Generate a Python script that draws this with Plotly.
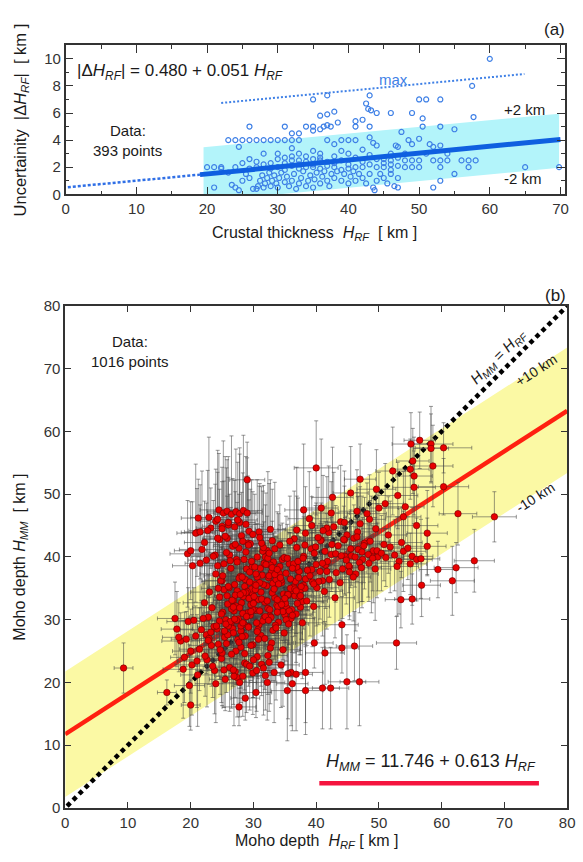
import plotly.graph_objects as go

W, H = 583, 862
FONT = "Liberation Sans, Arial, sans-serif"

# ---------------- panel (a): uncertainty vs crustal thickness ----------------
unc_x = [23, 24, 25, 26, 27, 28, 29, 30, 31, 32,
         33, 37, 39, 40, 41, 48.5, 51.5, 47.5, 26, 31,
         32, 33, 34, 35, 36.5, 37, 41, 42, 50.5, 53,
         55, 50.5, 60, 57.5, 35, 37, 43, 50, 51, 53,
         42.5, 42.8, 43.2, 44, 46, 49, 57.7, 36, 37, 38,
         41, 38.5, 36, 35, 37.5, 43, 24.5, 32, 35, 36,
         38, 42, 43, 43.5, 44, 46, 46.7, 47, 48, 49,
         50, 51, 52, 53, 54, 30, 31, 33, 34, 39,
         40, 45, 32, 33, 35, 36, 38, 46, 48, 49,
         50, 52, 53, 54, 56, 57, 58, 48, 49, 50,
         53, 57, 65, 69.8, 52, 53, 47, 55, 20, 21,
         22, 24, 26, 27, 28, 29, 30, 31, 32, 33,
         34, 35, 36, 37, 38, 39, 40, 41, 42, 43,
         44, 45, 46, 47, 21, 23.5, 24, 24.5, 25, 25.5,
         26, 26.5, 27, 27.2, 27.5, 27.8, 28, 28.2, 28.5, 28.8,
         29, 29.2, 29.5, 29.8, 30, 30.2, 30.5, 31, 31.3, 31.6,
         32, 32.3, 32.6, 33, 33.3, 33.6, 34, 34.3, 34.6, 35,
         35.2, 35.5, 36, 36.3, 36.6, 37, 37.3, 37.6, 38, 38.4,
         39, 39.4, 40, 40.3, 40.7, 41, 41.5, 42, 42.5, 43,
         43.5, 43.7, 44, 44.5, 45, 45.5, 46, 46.5, 47, 22,
         23, 25, 26, 27, 28, 29, 30, 31, 32, 33,
         34, 35, 36, 37, 38, 39, 40, 41, 42, 43,
         44, 45, 46, 47]
unc_y = [4, 4, 4, 4, 4, 4, 4, 4, 4, 4,
         4, 4, 4, 4, 4, 4, 3.7, 4.6, 5, 5,
         4.5, 4.5, 5, 5, 5, 5.1, 5, 5.5, 5, 5,
         4.8, 5.6, 10, 8, 7, 7.3, 7.3, 7, 7, 7,
         6.7, 6.3, 6.2, 6, 6, 6, 5.7, 5.8, 5.9, 6.1,
         5.4, 5.3, 4.8, 4.7, 5.0, 5.0, 3.5, 3.4, 3.2, 3.0,
         3.7, 3.3, 4.2, 3.8, 3.6, 3.0, 3.6, 3.5, 3.0, 3.7,
         4.1, 3.0, 3.5, 3.6, 3.0, 3.0, 2.7, 3.0, 2.8, 3.2,
         3.0, 2.6, 2.5, 2.5, 2.6, 2.5, 2.3, 2.5, 2.5, 2.5,
         2.5, 2.5, 2.5, 2.5, 2.5, 2.5, 2.5, 2.0, 2.0, 2.0,
         2.0, 2.0, 2.0, 2.0, 0.5, 1.0, 0.5, 1.5, 2, 2,
         1.9, 2, 1.9, 2, 2.2, 2.3, 2.0, 1.8, 2.1, 2.2,
         2.0, 2.2, 1.9, 2.1, 2.0, 1.8, 1.9, 2.0, 2.0, 2.2,
         2.0, 2.0, 1.8, 2.1, 0.5, 0.7, 0.5, 0.3, 1.0, 1.5,
         1.2, 0.4, 0.4, 0.6, 1.0, 1.4, 0.5, 0.8, 1.2, 1.6,
         0.6, 1.0, 1.4, 0.8, 0.5, 1.2, 1.6, 0.9, 1.3, 0.6,
         1.0, 1.5, 0.4, 0.8, 1.2, 1.7, 0.6, 1.0, 1.4, 0.5,
         1.1, 1.6, 0.8, 1.3, 1.7, 1.0, 0.6, 1.5, 1.2, 1.7,
         1.0, 1.5, 0.8, 1.3, 1.7, 1.0, 1.5, 1.2, 0.8, 1.5,
         0.5, 0.3, 1.0, 1.5, 1.2, 0.8, 1.5, 0.6, 1.2, 2.0,
         1.6, 2.3, 2.6, 2.4, 3.0, 1.9, 2.6, 2.3, 2.8, 1.9,
         2.4, 2.0, 2.7, 2.4, 2.8, 2.5, 2.2, 2.7, 2.4, 2.9,
         2.6, 2.3, 2.2, 2.7]

fit_a_x = [19.0, 70.0]
fit_a_y = [1.45, 4.05]
ext_a_x = [0.3, 19.0]
ext_a_y = [0.52, 1.45]
max_a_x = [22.0, 64.9]
max_a_y = [6.74, 8.88]
band_a_x = [19.5, 69.8]
band_a_lo = [-0.53, 1.95]
band_a_hi = [3.47, 5.95]

# ---------------- panel (b): Moho depth comparison ----------------
core_x = [24.2, 25.1, 25.8, 26.4, 27.0, 27.6, 28.1, 28.7, 29.2, 29.8,
          30.3, 30.9, 31.4, 32.0, 32.6, 33.1, 33.7, 34.2, 34.8, 35.3,
          24.6, 25.5, 26.1, 26.9, 27.3, 28.4, 28.9, 29.5, 30.1, 30.6,
          31.2, 31.7, 32.3, 32.9, 33.4, 34.0, 34.5, 35.1, 35.7, 36.2,
          24.9, 25.3, 26.7, 27.2, 27.9, 28.5, 29.1, 29.7, 30.4, 30.8,
          31.5, 32.1, 32.8, 33.2, 33.9, 34.4, 35.0, 35.6, 36.4, 37.1,
          25.0, 25.9, 26.5, 27.4, 28.0, 28.6, 29.3, 29.9, 30.5, 31.1,
          31.8, 32.4, 33.0, 33.5, 34.1, 34.7, 35.4, 36.0, 36.7, 37.5,
          26.0, 26.8, 27.7, 28.3, 29.0, 29.6, 30.2, 30.7, 31.3, 31.9,
          32.5, 33.3, 33.8, 34.6, 35.2, 35.9, 36.6, 37.3, 38.0, 37.8,
          24.4, 25.6, 26.3, 27.1, 27.8, 28.8, 29.4, 30.0, 31.0, 31.6,
          32.2, 32.7, 33.6, 34.3, 34.9, 35.5, 36.1, 36.9, 37.6, 38.3]
core_y = [28.5, 31.2, 33.8, 29.4, 35.6, 30.1, 32.7, 36.4, 28.9, 34.2,
          31.5, 29.2, 37.1, 33.0, 30.6, 35.8, 32.3, 38.5, 34.1, 31.9,
          33.6, 27.8, 35.1, 31.4, 29.9, 33.7, 38.1, 30.7, 32.9, 36.8,
          34.4, 30.3, 31.8, 37.6, 33.5, 29.6, 35.9, 32.6, 38.9, 34.7,
          30.9, 34.8, 28.6, 32.2, 36.9, 29.3, 31.1, 34.9, 37.3, 33.2,
          29.8, 35.4, 30.4, 39.2, 32.1, 36.3, 30.8, 33.9, 35.2, 37.9,
          36.2, 32.5, 31.7, 34.6, 28.2, 35.3, 33.4, 31.6, 29.5, 38.2,
          32.8, 36.7, 34.3, 29.1, 37.4, 31.3, 34.0, 30.2, 36.1, 32.0,
          29.0, 33.1, 36.6, 31.0, 34.5, 32.4, 35.7, 28.4, 33.3, 30.5,
          37.0, 34.9, 31.2, 39.6, 30.0, 35.0, 33.8, 37.7, 35.5, 32.9,
          35.0, 30.0, 29.7, 33.9, 31.9, 34.3, 36.0, 32.6, 31.4, 35.6,
          33.0, 38.7, 36.4, 32.8, 39.9, 34.0, 31.6, 38.4, 34.8, 36.5]
core_ex = [2.5, 3.0, 2.0, 3.5, 2.8, 2.2, 4.0, 3.1, 2.6, 2.9,
           3.3, 2.4, 2.7, 3.8, 2.1, 3.0, 2.5, 3.6, 2.3, 3.2,
           2.0, 2.8, 3.4, 2.6, 3.9, 2.2, 3.0, 2.7, 3.5, 2.4,
           2.9, 3.1, 2.3, 3.7, 2.5, 2.8, 3.3, 2.1, 4.2, 2.6,
           3.0, 2.4, 2.9, 3.2, 2.7, 3.6, 2.2, 3.0, 2.5, 3.4,
           2.8, 2.3, 3.9, 2.6, 3.1, 2.0, 3.5, 2.7, 2.4, 3.0,
           3.2, 2.5, 2.8, 3.6, 2.1, 2.9, 3.3, 2.4, 3.8, 2.6,
           2.2, 3.0, 2.7, 3.4, 2.5, 3.1, 2.3, 3.7, 2.8, 3.0,
           2.6, 3.2, 2.4, 2.9, 3.5, 2.2, 3.0, 2.7, 3.3, 2.5,
           3.1, 2.8, 3.6, 2.4, 2.9, 3.2, 2.6, 3.0, 2.3, 3.4,
           2.7, 3.0, 2.5, 3.3, 2.8, 2.2, 3.6, 2.9, 3.1, 2.4,
           3.0, 2.6, 3.4, 2.7, 2.3, 3.2, 2.8, 3.5, 2.5, 3.0]
core_ey = [5.0, 6.5, 4.2, 8.0, 5.5, 3.8, 7.2, 6.0, 9.5, 4.8,
           6.2, 5.3, 7.8, 4.5, 8.8, 5.9, 6.7, 4.0, 7.4, 5.1,
           8.3, 4.6, 6.9, 5.6, 7.0, 9.0, 4.3, 6.4, 5.2, 8.5,
           4.9, 7.6, 6.1, 5.4, 9.8, 4.4, 6.8, 7.1, 5.0, 6.3,
           7.7, 5.8, 9.2, 4.7, 6.0, 8.1, 5.5, 7.3, 4.1, 6.6,
           9.6, 5.2, 7.5, 4.6, 8.7, 6.2, 5.7, 7.9, 4.9, 6.5,
           5.4, 8.4, 6.1, 7.0, 9.9, 4.5, 6.8, 5.3, 8.2, 4.2,
           7.1, 5.9, 6.4, 8.9, 5.0, 7.7, 6.0, 9.3, 4.8, 6.9,
           8.6, 5.1, 7.2, 6.3, 4.4, 9.4, 5.6, 7.8, 6.7, 5.2,
           4.0, 7.4, 8.0, 5.8, 6.6, 4.7, 9.1, 5.5, 7.0, 6.1,
           6.0, 5.5, 8.3, 4.9, 7.6, 6.4, 5.1, 8.8, 6.2, 7.3,
           5.7, 4.3, 6.9, 7.5, 4.6, 8.5, 6.8, 5.0, 7.9, 6.2]

core2_x = [22.5, 23.4, 24.8, 26.2, 27.5, 28.9, 30.3, 31.7, 33.1, 34.5,
           35.9, 37.3, 38.7, 40.1, 41.5, 23.0, 24.3, 25.7, 27.0, 28.4,
           29.8, 31.2, 32.6, 34.0, 35.4, 36.8, 38.2, 39.6, 41.0, 42.4,
           22.2, 23.7, 25.1, 26.6, 28.0, 29.4, 30.8, 32.2, 33.6, 35.0,
           36.4, 37.8, 39.2, 40.6, 42.0, 23.3, 24.6, 26.0, 27.3, 28.7,
           30.1, 31.5, 32.9, 34.3, 35.7, 37.1, 38.5, 39.9, 41.3, 29.3,
           24.0, 25.4, 26.8, 28.2, 29.6, 31.0, 32.4, 33.8, 35.2, 36.6,
           38.0, 39.4, 40.8, 27.7, 30.6, 33.4, 36.2, 25.8, 31.9, 34.9,
           26.3, 27.9, 29.1, 30.4, 31.8, 33.0, 34.2, 35.6, 28.6, 32.7,
           22.8, 24.9, 27.2, 29.9, 32.3, 34.7, 37.0, 39.3, 41.7, 36.9]
core2_y = [27.6, 31.9, 36.2, 40.3, 26.8, 30.5, 34.8, 39.0, 28.3, 32.4,
           36.5, 33.6, 37.9, 35.1, 38.7, 34.4, 38.6, 26.2, 30.1, 34.3,
           38.4, 27.5, 31.6, 35.7, 39.8, 30.9, 35.0, 32.1, 36.2, 40.4,
           32.7, 28.9, 37.0, 33.1, 29.0, 37.6, 26.9, 41.0, 28.7, 33.4,
           38.9, 29.5, 41.3, 37.7, 43.9, 25.9, 29.8, 35.3, 39.6, 27.4,
           33.7, 40.9, 26.3, 36.7, 31.4, 39.3, 33.0, 41.6, 34.5, 44.1,
           37.3, 27.2, 32.0, 36.8, 31.3, 35.9, 29.9, 33.2, 37.4, 34.9,
           40.1, 36.0, 42.7, 41.4, 28.1, 37.2, 30.7, 43.0, 40.0, 27.9,
           39.4, 34.0, 42.2, 35.5, 27.0, 38.3, 41.9, 29.3, 24.6, 25.5,
           30.4, 23.8, 25.0, 26.0, 24.3, 25.2, 32.6, 38.0, 44.6, 44.3]
core2_ex = [2.7, 3.1, 2.4, 3.3, 2.9, 2.5, 3.6, 2.8, 3.0, 2.6,
            3.2, 2.4, 2.9, 3.5, 2.7, 3.0, 2.5, 3.4, 2.8, 3.1,
            2.6, 3.3, 2.9, 2.4, 3.7, 2.7, 3.0, 2.5, 3.2, 2.8,
            3.4, 2.6, 3.0, 2.9, 2.3, 3.5, 2.7, 3.1, 2.6, 3.0,
            2.8, 3.3, 2.5, 3.0, 2.7, 3.6, 2.4, 3.1, 2.9, 2.6,
            3.2, 2.8, 3.5, 2.5, 3.0, 2.7, 3.3, 2.6, 2.9, 3.1,
            2.5, 3.4, 2.8, 3.0, 2.6, 3.2, 2.9, 2.4, 3.6, 2.7,
            3.0, 2.6, 3.1, 2.8, 3.3, 2.5, 3.0, 2.7, 3.4, 2.9,
            2.6, 3.1, 2.8, 3.5, 2.4, 3.0, 2.7, 3.2, 2.9, 2.6,
            3.0, 2.8, 3.3, 2.5, 3.1, 2.7, 2.9, 3.4, 2.6, 3.0]
core2_ey = [6.2, 8.6, 5.3, 9.7, 7.1, 4.9, 10.4, 6.6, 8.0, 5.7,
            7.4, 9.2, 5.0, 8.3, 6.9, 10.9, 5.6, 7.8, 6.3, 9.5,
            4.8, 8.1, 6.7, 11.2, 5.4, 7.7, 9.0, 6.1, 8.8, 5.9,
            10.2, 6.4, 7.2, 5.1, 9.9, 6.8, 8.5, 5.5, 11.5, 7.0,
            6.0, 8.9, 5.2, 7.6, 10.6, 6.5, 9.3, 4.7, 8.2, 7.3,
            5.8, 9.6, 6.2, 8.4, 5.3, 10.1, 7.1, 6.6, 9.4, 5.0,
            8.7, 6.1, 7.9, 5.7, 11.0, 6.9, 8.0, 5.4, 9.1, 7.5,
            6.3, 10.3, 5.9, 8.6, 7.2, 5.6, 9.8, 6.7, 8.3, 5.1,
            7.8, 6.0, 10.7, 5.5, 8.1, 7.4, 6.4, 9.7, 5.8, 8.9,
            6.8, 7.0, 5.3, 8.4, 6.2, 9.0, 7.7, 5.9, 8.2, 10.0]

upleft_x = [19.5, 20.3, 21.0, 21.8, 22.5, 23.2, 23.9, 24.6, 25.3, 26.0,
            26.7, 27.4, 28.1, 28.8, 29.5, 30.2, 30.9, 31.6, 32.3, 33.0,
            20.0, 20.8, 21.5, 22.2, 22.9, 23.6, 24.3, 25.0, 25.7, 26.4,
            27.1, 27.8, 28.5, 29.2, 29.9, 30.6, 31.3, 32.0, 32.7, 33.4,
            21.2, 22.7, 24.0, 25.5, 27.0, 28.3, 29.7, 31.0, 32.5, 33.8]
upleft_y = [40.5, 38.6, 43.9, 41.2, 39.5, 44.6, 40.3, 42.8, 38.9, 45.1,
            41.7, 39.2, 43.4, 40.8, 42.1, 38.4, 44.0, 41.5, 39.8, 42.6,
            41.0, 43.8, 39.0, 42.3, 46.3, 40.1, 43.0, 44.9, 40.7, 38.2,
            42.0, 45.5, 39.6, 41.9, 43.6, 40.0, 42.2, 38.8, 44.4, 41.3,
            46.2, 44.2, 45.7, 43.3, 44.8, 42.5, 39.3, 43.1, 40.6, 38.0]
upleft_ex = [2.8, 3.2, 2.5, 3.6, 2.9, 2.3, 3.4, 2.7, 3.0, 2.4,
             3.1, 2.6, 3.5, 2.8, 2.2, 3.3, 2.7, 3.0, 2.5, 3.8,
             2.6, 3.0, 2.4, 3.2, 2.9, 3.5, 2.3, 3.1, 2.8, 2.6,
             3.4, 2.5, 3.0, 2.7, 3.3, 2.2, 2.9, 3.6, 2.4, 3.1,
             2.7, 3.0, 2.5, 3.4, 2.8, 3.2, 2.6, 2.9, 3.5, 2.3]
upleft_ey = [8.5, 10.2, 7.0, 12.5, 9.1, 6.4, 11.3, 8.0, 13.2, 7.6,
             10.8, 9.5, 6.9, 12.0, 8.7, 11.6, 7.3, 9.9, 13.8, 8.2,
             7.8, 11.0, 9.3, 6.6, 12.8, 8.9, 10.5, 7.1, 13.5, 9.7,
             8.4, 11.9, 7.5, 10.1, 6.8, 12.3, 9.0, 11.4, 7.9, 10.6,
             6.2, 9.6, 8.3, 12.7, 7.4, 10.9, 13.0, 8.6, 11.1, 9.2]

row47_x = [24.5, 25.2, 25.8, 26.5, 27.2, 27.8, 28.4, 29.0, 26.0, 27.5, 24.3, 21.5, 25.0, 28.8]
row47_y = [47.5, 47.0, 47.3, 46.8, 47.2, 46.9, 47.4, 47.0, 45.5, 45.9, 46.0, 44.0, 44.5, 45.2]
row47_ex = [3.0, 2.5, 3.2, 2.8, 3.5, 2.6, 3.0, 2.4, 2.9, 3.1, 2.7, 2.5, 3.3, 2.8]
row47_ey = [9.0, 11.5, 8.2, 12.5, 10.0, 9.5, 12.0, 8.8, 10.5, 9.2, 11.0, 7.5, 9.8, 10.8]

lowleft_x = [17.8, 18.4, 19.0, 19.6, 20.2, 20.8, 21.4, 22.0, 22.6, 23.2,
             23.8, 24.4, 25.0, 25.6, 26.2, 26.8, 27.4, 28.0, 28.6, 29.2,
             18.1, 18.8, 19.3, 20.0, 20.5, 21.1, 21.7, 22.3, 22.9, 23.5,
             24.1, 24.7, 25.3, 25.9, 26.5, 27.1, 27.7, 28.3, 28.9, 29.6,
             17.5, 19.8, 21.0, 22.8, 24.0, 25.4, 26.9, 28.2, 29.9, 30.6]
lowleft_y = [28.5, 26.6, 24.0, 29.7, 22.8, 27.4, 25.3, 30.2, 23.6, 28.0,
             21.9, 26.1, 24.7, 29.3, 22.4, 27.9, 20.8, 25.6, 23.1, 28.8,
             27.2, 22.1, 26.9, 25.0, 29.9, 21.2, 28.4, 24.2, 27.0, 22.6,
             29.0, 25.2, 22.0, 27.6, 24.5, 21.7, 26.4, 29.5, 22.9, 25.9,
             30.2, 19.5, 23.4, 26.7, 19.8, 28.2, 21.0, 27.3, 21.5, 24.1]
lowleft_ex = [2.5, 3.0, 2.2, 3.4, 2.7, 2.9, 3.2, 2.4, 3.6, 2.6,
              3.0, 2.3, 2.8, 3.5, 2.5, 3.1, 2.7, 2.9, 3.3, 2.2,
              2.6, 3.2, 2.4, 2.9, 3.0, 2.7, 3.4, 2.5, 2.8, 3.1,
              2.3, 3.0, 2.6, 3.5, 2.4, 2.9, 3.2, 2.7, 3.0, 2.5,
              2.8, 2.4, 3.1, 2.6, 3.3, 2.5, 2.9, 3.0, 2.7, 3.2]
lowleft_ey = [6.0, 4.5, 7.2, 5.4, 8.0, 4.8, 6.6, 5.9, 7.5, 4.2,
              6.9, 5.1, 8.4, 4.6, 7.0, 5.7, 6.3, 8.8, 4.9, 6.1,
              5.5, 7.8, 4.4, 6.7, 5.2, 8.2, 4.7, 6.4, 7.3, 5.0,
              4.3, 7.1, 6.0, 5.3, 8.6, 4.1, 6.8, 5.6, 7.7, 4.9,
              5.8, 6.5, 7.4, 4.6, 6.2, 5.1, 7.9, 4.8, 6.6, 5.5]

mid_x = [36.2, 36.9, 37.6, 38.3, 39.0, 39.7, 40.4, 41.1, 41.8, 42.5,
         43.2, 43.9, 44.6, 45.3, 46.0, 46.7, 47.4, 48.1, 48.8, 49.5,
         36.5, 37.2, 37.9, 38.6, 39.3, 40.0, 40.7, 41.4, 42.1, 42.8,
         43.5, 44.2, 44.9, 45.6, 46.3, 47.0, 47.7, 48.4, 49.1, 49.8,
         36.8, 37.5, 38.2, 38.9, 39.6, 40.3, 41.0, 41.7, 42.4, 43.1,
         43.8, 44.5, 45.2, 45.9, 46.6, 47.3, 38.0, 40.8, 43.0, 35.8]
mid_y = [38.2, 41.5, 35.3, 43.8, 37.0, 40.6, 36.1, 44.2, 39.3, 42.0,
         37.5, 45.6, 40.1, 38.4, 43.0, 41.2, 39.6, 46.9, 40.4, 44.5,
         42.9, 36.7, 39.8, 37.9, 45.0, 38.8, 42.6, 40.9, 36.4, 44.8,
         41.8, 38.1, 43.5, 40.2, 37.3, 45.3, 42.2, 39.0, 41.0, 40.0,
         34.6, 33.8, 41.9, 46.1, 35.7, 43.1, 39.0, 37.7, 47.0, 40.5,
         35.9, 42.7, 38.6, 36.8, 44.0, 40.8, 47.5, 47.8, 33.5, 42.5]
mid_ex = [3.0, 2.6, 3.4, 2.8, 2.4, 3.2, 2.9, 3.6, 2.5, 3.1,
          2.7, 3.3, 2.4, 3.0, 2.8, 3.5, 2.6, 3.1, 2.9, 2.3,
          3.2, 2.5, 3.0, 3.7, 2.7, 2.9, 3.4, 2.4, 3.1, 2.6,
          2.8, 3.3, 2.5, 3.0, 3.6, 2.7, 2.4, 3.2, 2.9, 3.0,
          2.6, 3.1, 2.8, 3.4, 2.5, 3.0, 2.7, 3.3, 2.9, 2.4,
          3.5, 2.6, 3.0, 2.8, 3.2, 2.5, 3.0, 2.7, 3.1, 2.8]
mid_ey = [6.5, 8.2, 5.1, 7.4, 9.6, 4.8, 6.9, 8.8, 5.6, 7.1,
          4.4, 9.0, 6.2, 7.8, 5.3, 8.5, 6.7, 4.9, 9.3, 5.8,
          7.6, 5.0, 8.1, 6.4, 4.6, 9.8, 5.5, 7.2, 6.0, 8.7,
          5.2, 7.9, 6.6, 4.7, 9.1, 5.9, 7.3, 6.1, 8.3, 5.4,
          6.8, 9.4, 5.7, 7.5, 4.5, 8.0, 6.3, 9.2, 5.0, 7.7,
          6.0, 8.6, 4.3, 7.0, 5.6, 8.9, 10.5, 11.0, 6.4, 7.2]

arm_x = [44.0, 44.8, 45.5, 46.2, 46.9, 47.6, 48.3, 49.0, 49.7, 50.4,
         51.1, 51.8, 52.5, 53.2, 53.9, 54.6, 55.3, 56.0, 44.4, 46.5,
         48.6, 50.8, 52.9, 55.0, 56.7, 45.3, 47.2, 49.4, 51.5, 53.6]
arm_y = [40.2, 39.5, 41.3, 40.0, 39.1, 41.8, 40.4, 39.8, 41.0, 40.6,
         39.9, 41.6, 40.3, 39.3, 40.9, 41.4, 40.1, 39.6, 42.8, 43.2,
         42.5, 42.0, 38.5, 38.9, 39.7, 37.6, 38.3, 38.1, 43.5, 42.3]
arm_ex = [2.6, 3.0, 2.4, 3.3, 2.8, 3.5, 2.5, 3.1, 2.7, 3.4,
          2.9, 3.2, 2.6, 3.0, 3.6, 2.8, 3.3, 2.5, 3.0, 2.7,
          3.1, 2.9, 3.4, 2.6, 3.0, 2.8, 3.2, 2.5, 2.9, 3.3]
arm_ey = [5.5, 7.0, 6.2, 4.8, 8.0, 5.9, 6.8, 5.2, 7.5, 6.0,
          4.6, 7.3, 5.7, 8.4, 6.4, 5.0, 7.8, 6.6, 5.3, 7.1,
          6.5, 5.8, 7.9, 4.9, 6.3, 7.6, 5.4, 8.2, 6.1, 5.6]

deep_x = [55.1, 56.5, 58.3, 58.3, 60.3, 58.6, 55.4, 55.0, 55.6, 55.6,
          52.2, 49.6, 47.0, 42.6, 60.3, 62.6, 68.4, 57.7, 53.9, 54.2,
          40.0, 29.0, 51.0, 50.0, 48.5, 46.5, 44.5, 53.0, 45.5, 56.0]
deep_y = [58.0, 58.6, 58.0, 57.3, 57.4, 54.5, 55.3, 54.0, 52.9, 51.1,
          53.7, 50.8, 52.4, 49.5, 51.2, 46.9, 46.4, 43.8, 46.4, 48.0,
          54.2, 52.3, 48.5, 47.8, 46.0, 47.3, 45.5, 49.8, 50.2, 45.0]
deep_ex = [3.0, 2.5, 3.5, 2.8, 4.5, 3.2, 2.6, 3.0, 2.9, 3.4,
           2.7, 3.1, 2.5, 3.3, 4.0, 3.0, 3.5, 3.2, 2.8, 3.0,
           3.5, 2.8, 2.9, 3.1, 2.6, 3.0, 2.7, 3.2, 2.8, 3.4]
deep_ey = [5.0, 4.5, 6.0, 5.5, 4.0, 6.5, 5.2, 4.8, 6.2, 5.8,
           7.0, 6.3, 5.6, 8.0, 4.5, 5.0, 4.0, 6.8, 7.2, 5.9,
           7.5, 6.0, 6.4, 5.7, 7.1, 6.6, 8.2, 5.3, 7.4, 6.1]

out_x = [56.8, 61.7, 53.5, 55.3, 44.1, 39.7, 52.8, 44.1, 46.1, 41.4,
         36.0, 36.8, 38.3, 36.2, 44.9, 46.9, 41.0, 42.3, 35.4, 38.3,
         30.4, 28.7, 27.7, 20.0, 16.2, 9.3, 31.3, 31.9, 32.2, 25.5,
         27.8, 59.4, 62.3, 65.2, 57.7]
out_y = [35.5, 36.2, 33.2, 33.3, 29.2, 26.3, 26.3, 25.5, 25.8, 24.7,
         21.6, 21.3, 21.6, 19.8, 20.1, 20.1, 19.1, 19.1, 18.7, 18.7,
         18.4, 17.5, 16.1, 16.4, 18.4, 22.3, 22.9, 21.1, 20.0, 20.5,
         20.0, 38.0, 38.3, 39.4, 41.7]
out_ex = [3.0, 3.5, 2.5, 2.8, 2.6, 3.0, 3.2, 2.7, 2.9, 3.1,
          2.4, 2.6, 2.8, 2.5, 3.0, 3.1, 2.7, 2.9, 2.6, 2.8,
          2.5, 2.3, 2.7, 1.5, 1.5, 1.5, 2.6, 2.4, 2.8, 2.5,
          2.7, 3.0, 3.5, 3.2, 3.0]
out_ey = [5.0, 5.5, 4.5, 4.0, 4.5, 4.0, 4.2, 4.0, 5.5, 5.0,
          8.5, 9.0, 8.0, 7.5, 7.5, 7.0, 6.5, 6.5, 8.0, 7.0,
          4.0, 3.5, 3.0, 4.0, 2.0, 4.0, 5.0, 5.5, 6.0, 5.0,
          5.5, 4.5, 4.0, 5.0, 4.5]

row22_x = [29.4, 30.5, 31.6, 33.3, 34.4, 35.5, 30.0, 32.5, 28.3, 26.8]
row22_y = [22.6, 21.9, 22.3, 21.6, 22.8, 21.4, 23.6, 23.2, 21.0, 22.0]
row22_ex = [2.5, 2.8, 3.0, 2.6, 2.9, 2.7, 3.1, 2.5, 2.8, 2.6]
row22_ey = [7.0, 6.5, 7.5, 8.0, 6.8, 7.2, 6.0, 7.8, 6.4, 5.5]

fit_b_x = [0.0, 80.0]
fit_b_y = [11.75, 63.3]
band_b_lo = [1.75, 53.4]
band_b_hi = [21.75, 73.4]
one_x = [0.3, 80.0]
one_y = [0.3, 80.0]
key_x = [40.5, 75.5]
key_y = [3.95, 3.95]

# ---- assemble panel (b) series ----
groups = [
    (core_x, core_y, core_ex, core_ey),
    (core2_x, core2_y, core2_ex, core2_ey),
    (upleft_x, upleft_y, upleft_ex, upleft_ey),
    (row47_x, row47_y, row47_ex, row47_ey),
    (lowleft_x, lowleft_y, lowleft_ex, lowleft_ey),
    (mid_x, mid_y, mid_ex, mid_ey),
    (arm_x, arm_y, arm_ex, arm_ey),
    (deep_x, deep_y, deep_ex, deep_ey),
    (out_x, out_y, out_ex, out_ey),
    (row22_x, row22_y, row22_ex, row22_ey),
]
rf, mm, erf, emm = [], [], [], []
for gx, gy, gex, gey in groups:
    for a, b, c, d in zip(gx, gy, gex, gey):
        rf.append(a); mm.append(b); erf.append(c); emm.append(d)

fig = go.Figure()

# ---------- panel (a) traces ----------
fig.add_trace(go.Scatter(
    x=band_a_x + band_a_x[::-1], y=band_a_lo + band_a_hi[::-1],
    fill="toself", fillcolor="#b3f4fa", line=dict(width=0),
    mode="lines", hoverinfo="skip", xaxis="x", yaxis="y"))
fig.add_trace(go.Scatter(
    x=unc_x, y=unc_y, mode="markers",
    marker=dict(symbol="circle-open", size=5, color="#3f80e6", line=dict(width=1.2)),
    xaxis="x", yaxis="y"))
fig.add_trace(go.Scatter(
    x=ext_a_x, y=ext_a_y, mode="lines",
    line=dict(color="#2f6fe6", width=2.5, dash="3px,2px"), xaxis="x", yaxis="y"))
fig.add_trace(go.Scatter(
    x=max_a_x, y=max_a_y, mode="lines",
    line=dict(color="#3f80e6", width=2, dash="2px,2px"), xaxis="x", yaxis="y"))
fig.add_trace(go.Scatter(
    x=fit_a_x, y=fit_a_y, mode="lines",
    line=dict(color="#0f5fe0", width=5), xaxis="x", yaxis="y"))

# ---------- panel (b) traces ----------
fig.add_trace(go.Scatter(
    x=fit_b_x + fit_b_x[::-1], y=band_b_lo + band_b_hi[::-1],
    fill="toself", fillcolor="#fbf9a4", line=dict(width=0),
    mode="lines", hoverinfo="skip", xaxis="x2", yaxis="y2"))
fig.add_trace(go.Scatter(
    x=one_x, y=one_y, mode="lines",
    line=dict(color="black", width=4.5, dash="4.5px,4px"), xaxis="x2", yaxis="y2"))
fig.add_trace(go.Scatter(
    x=fit_b_x, y=fit_b_y, mode="lines",
    line=dict(color="#ff2010", width=4.5), xaxis="x2", yaxis="y2"))
fig.add_trace(go.Scatter(
    x=rf, y=mm, mode="markers",
    marker=dict(size=6.5, color="#e80000", line=dict(width=0.6, color="#6a0000")),
    error_x=dict(type="data", array=erf, color="rgba(70,70,70,0.55)", thickness=1, width=2),
    error_y=dict(type="data", array=emm, color="rgba(70,70,70,0.55)", thickness=1, width=2),
    xaxis="x2", yaxis="y2"))
fig.add_trace(go.Scatter(
    x=key_x, y=key_y, mode="lines",
    line=dict(color="#f5143e", width=4.5), xaxis="x2", yaxis="y2"))

def py(p):
    return 1 - p / H

TXT = dict(family=FONT, color="#1a1a1a")

ann = []
def add(text, x, y, xref, yref, size, **kw):
    f = dict(TXT); f["size"] = size
    if "color" in kw:
        f["color"] = kw.pop("color")
    kw.setdefault("xanchor", "center")
    kw.setdefault("yanchor", "middle")
    ann.append(dict(text=text, x=x, y=y, xref=xref, yref=yref, showarrow=False,
                    font=f, **kw))

# panel (a) texts
add("|Δ<i>H</i><sub><i>RF</i></sub>| = 0.480 + 0.051 <i>H</i><sub><i>RF</i></sub>",
    1.3, 9.05, "x", "y", 17, xanchor="left")
add("max", 46.4, 8.45, "x", "y", 15, color="#3f80e6")
add("+2 km", 64.9, 6.25, "x", "y", 15)
add("-2 km", 64.7, 1.15, "x", "y", 15)
add("Data:", 8.8, 4.7, "x", "y", 15)
add("393 points", 8.8, 3.25, "x", "y", 15)
add("(a)", 561.7 / W, py(21), "paper", "paper", 17)
add("Uncertainity  |Δ<i>H</i><sub><i>RF</i></sub>|  [ km ]", 17 / W, py(113),
    "paper", "paper", 16.5, textangle=-90)
add("Crustal thickness  <i>H</i><sub><i>RF</i></sub>  [ km ]", 317 / W, py(229),
    "paper", "paper", 16)

# panel (b) texts
add("Data:", 10.4, 74.3, "x2", "y2", 15)
add("1016 points", 10.4, 71.1, "x2", "y2", 15)
add("<i>H</i><sub><i>MM</i></sub> = <i>H</i><sub><i>RF</i></sub>", 69.1, 71.9,
    "x2", "y2", 15, textangle=-45)
add("+10 km", 75.1, 69.8, "x2", "y2", 14, textangle=-33)
add("-10 km", 75.0, 49.5, "x2", "y2", 14, textangle=-33)
add("<i>H</i><sub><i>MM</i></sub> = 11.746 + 0.613 <i>H</i><sub><i>RF</i></sub>",
    58.3, 7.2, "x2", "y2", 18)
add("(b)", 563 / W, py(292), "paper", "paper", 17)
add("Moho depth <i>H</i><sub><i>MM</i></sub>  [ km ]", 17 / W, py(559),
    "paper", "paper", 16, textangle=-90)
add("Moho depth  <i>H</i><sub><i>RF</i></sub> [ km ]", 319 / W, py(849),
    "paper", "paper", 16)

TICKF = dict(family=FONT, size=15, color="#333")
common = dict(showline=True, linecolor="#333", linewidth=1.5, mirror="ticks",
              ticks="inside", tickcolor="#333", tickwidth=1.2, showgrid=False,
              zeroline=False, tickfont=TICKF, fixedrange=True)

fig.update_layout(
    width=W, height=H, autosize=False,
    margin=dict(l=0, r=0, t=0, b=0),
    paper_bgcolor="white", plot_bgcolor="white",
    showlegend=False,
    font=dict(family=FONT),
    xaxis=dict(domain=[63 / W, 572.5 / W], range=[0, 70.6], dtick=10, ticklen=8,
               minor=dict(ticks="inside", dtick=5, ticklen=4, tickcolor="#333"),
               anchor="y", **common),
    yaxis=dict(domain=[py(189), py(37)], range=[0, 11], dtick=2, ticklen=8,
               minor=dict(ticks="inside", dtick=1, ticklen=4, tickcolor="#333"),
               anchor="x", **common),
    xaxis2=dict(domain=[62.5 / W, 575 / W], range=[0, 80], dtick=10, ticklen=6,
                anchor="y2", **common),
    yaxis2=dict(domain=[py(815), py(303)], range=[0, 80], dtick=10, ticklen=6,
                anchor="x2", **common),
    annotations=ann,
)

fig.write_html("out.html", config={"displayModeBar": False},
               post_script="document.body.style.margin='0';document.body.style.overflow='hidden';")
